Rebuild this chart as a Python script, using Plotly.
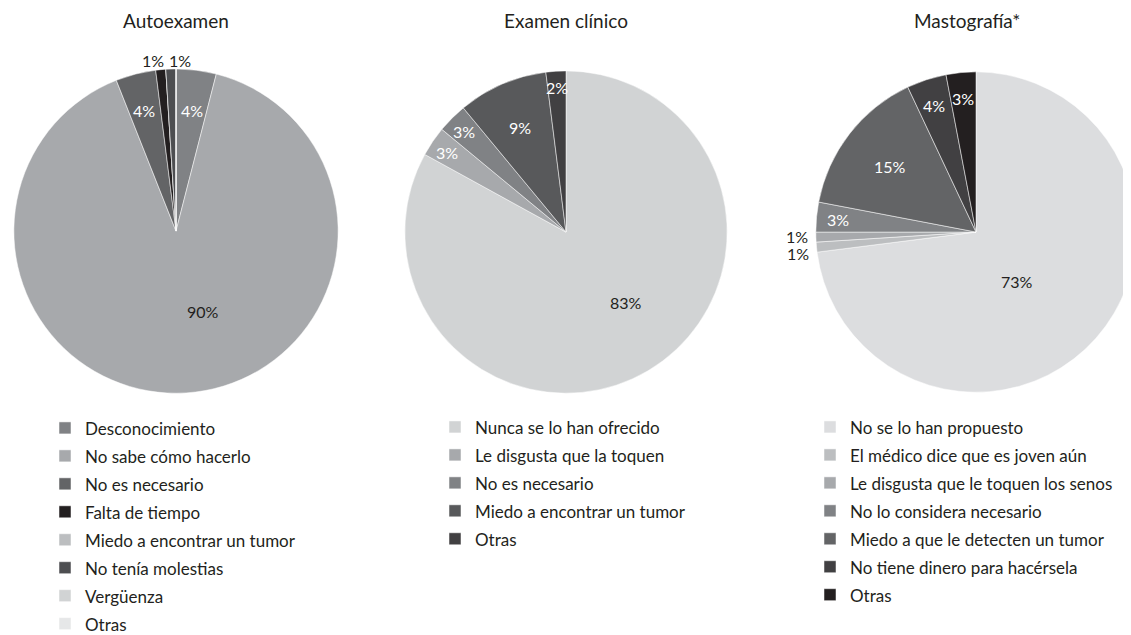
import math
import plotly.graph_objects as go

# ---- data ----
auto_labels = ["Desconocimiento", "No sabe cómo hacerlo", "No es necesario", "Falta de tiempo",
               "Miedo a encontrar un tumor", "No tenía molestias", "Vergüenza", "Otras"]
auto_values = [4, 90, 4, 1, 0, 1, 0, 0]

clin_labels = ["Nunca se lo han ofrecido", "Le disgusta que la toquen", "No es necesario",
               "Miedo a encontrar un tumor", "Otras"]
clin_values = [83, 3, 3, 9, 2]

mast_labels = ["No se lo han propuesto", "El médico dice que es joven aún",
               "Le disgusta que le toquen los senos", "No lo considera necesario",
               "Miedo a que le detecten un tumor", "No tiene dinero para hacérsela", "Otras"]
mast_values = [73, 1, 1, 3, 15, 4, 3]

titles = ["Autoexamen", "Examen clínico", "Mastografía*"]

# ---- styles ----
auto_colors = ["#808285", "#a7a9ac", "#636466", "#231f20", "#bcbec0", "#4d4e51", "#d1d3d4", "#e6e7e8"]
clin_colors = ["#d1d3d4", "#a7a9ac", "#808285", "#58595b", "#414042"]
mast_colors = ["#dcdddf", "#bcbec0", "#a7a9ac", "#808285", "#636466", "#414042", "#231f20"]

DARK = "#231f20"
FONT = "Lato"
W, H = 1131, 635
LEG_TEXT_SIZE = 17      # visible size of legend text
LEG_ROW_SIZE = 19.2     # legend font size that sets the row pitch

# pie geometry in paper pixels: centre x, centre y, radius
geoms = [(168, 227, 165), (558, 228, 164), (968, 228, 163)]

# label placement per slice: (radius fraction, angle shift in degrees, dark text)
auto_lab = [(0.75, 0, False), (0.52, -14.8, True), (0.77, 0, False), (1.06, -2, True),
            None, (1.055, 3, True), None, None]
clin_lab = [(0.57, -9.2, True), (0.88, 0, False), (0.88, 0, False), (0.71, 0, False),
            (0.90, 0, False)]
mast_lab = [(0.40, 9.8, True), (1.10, -1.6, True), (1.10, 0.5, True), (0.85, 0, False),
            (0.67, 0, False), (0.83, 0, False), (0.84, 0, False)]


def fx(px):
    return px / W


def fy(px):
    return 1 - px / H


fig = go.Figure()
pies = [(auto_labels, auto_values, auto_colors, auto_lab, "legend"),
        (clin_labels, clin_values, clin_colors, clin_lab, "legend2"),
        (mast_labels, mast_values, mast_colors, mast_lab, "legend3")]

for k, ((labels, values, colors, labcfg, leg), (cx, cy, r)) in enumerate(zip(pies, geoms)):
    # trailing spaces keep legend entries of different pies separate
    shown = [f'<span style="font-size:{LEG_TEXT_SIZE}px">{lbl}</span>' + " " * k for lbl in labels]
    fig.add_trace(go.Pie(
        labels=shown, values=values, textinfo="none",
        marker=dict(colors=colors, line=dict(color="white", width=0.5)),
        sort=False, direction="clockwise", rotation=0,
        domain=dict(x=[fx(cx - r), min(1.0, fx(cx + r))], y=[fy(cy + r), fy(cy - r)]),
        legend=leg, hovertext=labels, hoverinfo="text+percent",
    ))
    total = sum(values)
    cum = 0
    for v, cfg in zip(values, labcfg):
        mid = (cum + v / 2) / total * 360
        cum += v
        if v <= 0 or cfg is None:
            continue
        frac, dth, dark = cfg
        th = math.radians(mid + dth)
        px = cx + frac * r * math.sin(th)
        py = cy - frac * r * math.cos(th)
        fig.add_annotation(text=f"{v}%", x=fx(px), y=fy(py), xref="paper", yref="paper",
                           showarrow=False, xanchor="center", yanchor="middle",
                           font=dict(family=FONT, size=16, color=DARK if dark else "white"))

for t, xc in zip(titles, [168, 558, 959]):
    fig.add_annotation(text=t, x=fx(xc), y=fy(13), xref="paper", yref="paper",
                       showarrow=False, xanchor="center", yanchor="middle",
                       font=dict(family=FONT, size=19, color=DARK))

leg_common = dict(font=dict(family=FONT, size=LEG_ROW_SIZE, color=DARK), bgcolor="rgba(0,0,0,0)",
                  yanchor="top", xanchor="left", orientation="v", traceorder="normal")
fig.update_layout(
    width=W, height=H,
    margin=dict(l=0, r=0, t=0, b=0),
    paper_bgcolor="white", plot_bgcolor="white",
    showlegend=True,
    legend=dict(x=fx(37), y=fy(408), **leg_common),
    legend2=dict(x=fx(427), y=fy(407), **leg_common),
    legend3=dict(x=fx(802), y=fy(407), **leg_common),
    font=dict(family=FONT, color=DARK),
)

fig.write_html("out.html")
